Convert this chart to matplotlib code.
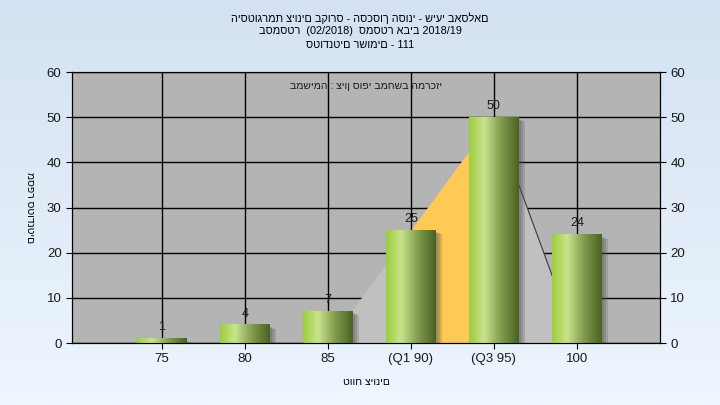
import numpy as np
import matplotlib.pyplot as plt
from matplotlib.colors import LinearSegmentedColormap
from matplotlib import transforms

plt.rcParams['font.family'] = ['Liberation Sans', 'DejaVu Sans']

categories = ["75", "80", "85", "(Q1 90)", "(Q3 95)", "100"]
counts = [1, 4, 7, 25, 50, 24]

# background curve (area) behind the bars
curve_x = [2, 3, 4, 5]
curve_y = [0, 25, 50, 0]
q1_idx, q3_idx = 3, 4

title_lines = [
    "היסטוגרמת ציונים בקורס - הסכסוך הסוני - שיעי באסלאם",
    "בסמסטר  (02/2018)  סמסטר אביב 2018/19",
    "סטודנטים רשומים - 111",
]
inner_text = "במשימה : ציון סופי במחשב המרכזי"
x_title = "טווח ציונים"
y_title = "מספר סטודנטים"

fig = plt.figure(figsize=(7.2, 4.05), dpi=100)

# figure background gradient
bg = fig.add_axes([0, 0, 1, 1], zorder=-10)
grad = np.linspace(0, 1, 256).reshape(-1, 1)
bg_cmap = LinearSegmentedColormap.from_list("bg", ["#d3e1f2", "#eef6fe"])
bg.imshow(grad, aspect="auto", cmap=bg_cmap, extent=[0, 1, 0, 1], origin="upper")
bg.axis("off")

ax = fig.add_axes([0.1, 0.153, 0.8167, 0.669])
ax.set_facecolor("#b4b4b4")
x = np.arange(len(categories))

ax.set_yticks(range(0, 61, 10))
ax.set_xticks(x)
ax.set_xticklabels(categories)
ax.grid(True, color="black", lw=1.0, zorder=0)
ax.set_axisbelow(True)

# area curve
ax.fill_between(curve_x, curve_y, color="#c0c0c0", zorder=1, lw=0)
cx = np.array(curve_x, dtype=float)
cy = np.array(curve_y, dtype=float)
seg = (cx >= q1_idx) & (cx <= q3_idx)
ax.fill_between(cx[seg], cy[seg], color="#ffc955", zorder=1.5, lw=0)
ax.plot(cx[cx >= q3_idx], cy[cx >= q3_idx], color="#3a3a3a", lw=0.8, zorder=1.6)

# bars with cylinder-like gradient
bar_cmap = LinearSegmentedColormap.from_list(
    "bar", [(0, "#9ccd3b"), (0.3, "#c9e48d"), (0.65, "#7f9b4c"), (1, "#4a6222")])
hgrad = np.linspace(0, 1, 128).reshape(1, -1)
w = 0.3
for xi, v in zip(x, counts):
    # soft drop shadow
    for dx, dy in [(2, -2), (4, -3), (6, -4)]:
        sh = transforms.offset_copy(ax.transData, fig=fig, x=dx, y=dy, units="dots")
        ax.add_patch(plt.Rectangle((xi - w, 0), 2 * w, v, transform=sh,
                                   color="#505050", alpha=0.22, lw=0, zorder=2))
    ax.imshow(hgrad, cmap=bar_cmap, aspect="auto", extent=[xi - w, xi + w, 0, v],
              zorder=3, interpolation="bicubic")
    ax.text(xi, v + 1.2, str(v), ha="center", va="bottom", fontsize=9, color="#1a1a1a", zorder=4)

ax.set_xlim(-1.08, 6.0)
ax.set_ylim(0, 60)

ax.tick_params(axis="both", labelsize=9.5, colors="black", labelcolor="#1a1a1a", length=4)
for s in ax.spines.values():
    s.set_color("black")

ax2 = ax.twinx()
ax2.set_ylim(0, 60)
ax2.set_yticks(range(0, 61, 10))
ax2.tick_params(axis="y", labelsize=9.5, labelcolor="#1a1a1a", length=4)

ax.set_xlabel(x_title, fontsize=7.5, labelpad=8)
ax.set_ylabel(y_title, fontsize=7.5, rotation=270, labelpad=12, va="center")

ax.text(0.5, 0.95, inner_text, transform=ax.transAxes, ha="center", va="center",
        fontsize=7.5, color="#1a1a1a", zorder=5)

for i, line in enumerate(title_lines):
    fig.text(0.5, 1 - (18 + 13.5 * i) / 405, line, ha="center", va="center", fontsize=7.8)

fig.savefig("out.png", dpi=100)
